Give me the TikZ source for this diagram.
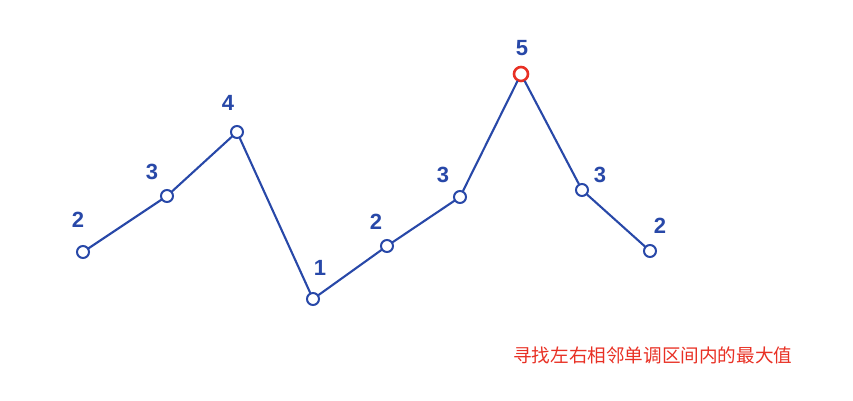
\documentclass[tikz,border=0pt]{standalone}
\usepackage{fontspec}
\setmainfont{Liberation Sans}
\newfontfamily\cjk{Noto Sans CJK SC}
\definecolor{pen}{RGB}{40,72,168}
\definecolor{mark}{RGB}{232,48,36}
\begin{document}
\begin{tikzpicture}[x=1pt,y=-1pt,
  pt/.style={circle,draw=pen,line width=2pt,inner sep=0pt,minimum width=11pt,minimum height=12pt},
  hot/.style={pt,draw=mark,line width=2.6pt,minimum width=14pt,minimum height=13pt},
  num/.style={text=pen,font=\fontsize{22}{22}\selectfont\bfseries},
  seg/.style={draw=pen,line width=2.1pt,line cap=round}]
\useasboundingbox (0,0) rectangle (853,401);
\node[pt] (p1) at (83,252) {};
\node[pt] (p2) at (167,196) {};
\node[pt] (p3) at (237,132) {};
\node[pt] (p4) at (313,299) {};
\node[pt] (p5) at (387,246) {};
\node[pt] (p6) at (460,197) {};
\node[hot] (p7) at (521,74) {};
\node[pt] (p8) at (582,190) {};
\node[pt] (p9) at (650,251) {};
\path[seg] (p1) -- (p2) -- (p3) -- (p4) -- (p5) -- (p6) -- (p7) -- (p8) -- (p9);
\node[num] (l1) at (78,220) {2};
\node[num] (l2) at (152,172) {3};
\node[num] (l3) at (228,103) {4};
\node[num] (l4) at (320,268) {1};
\node[num] (l5) at (376,222) {2};
\node[num] (l6) at (443,175) {3};
\node[num] (l7) at (522,48) {5};
\node[num] (l8) at (600,175) {3};
\node[num] (l9) at (660,226) {2};
\node[text=mark,font=\cjk\fontsize{18.6}{18.6}\selectfont,anchor=west,inner sep=0pt] (cap) at (513,355) {寻找左右相邻单调区间内的最大值};
\end{tikzpicture}
\end{document}
